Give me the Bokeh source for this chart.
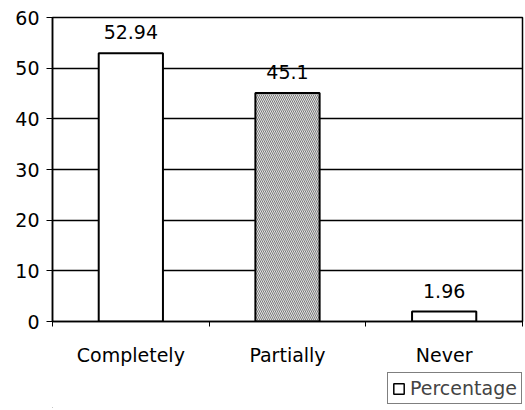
from bokeh.plotting import figure
from bokeh.layouts import column
from bokeh.models import ColumnDataSource, FixedTicker, LabelSet, Legend, LegendItem, Range1d
from bokeh.core.properties import value
from bokeh.embed import file_html
from bokeh.resources import INLINE

categories = ["Completely", "Partially", "Never"]
percentages = [52.94, 45.1, 1.96]
value_labels = ["52.94", "45.1", "1.96"]
y_ticks = [0, 10, 20, 30, 40, 50, 60]
series_name = "Percentage"

FONT = "DejaVu Sans"
FS = "19px"

x = [i + 0.5 for i in range(len(categories))]
fills = ["white", "#e4e4e4", "white"]
hatches = [" ", "left_diagonal_line", " "]

source = ColumnDataSource(dict(x=x, top=percentages, label=value_labels,
                               fill=fills, hatch=hatches))

p = figure(width=524, height=368, x_range=Range1d(0, len(categories)),
           y_range=Range1d(y_ticks[0], y_ticks[-1]),
           output_backend="svg", toolbar_location=None,
           min_border_left=52, min_border_top=17, min_border_right=2, min_border_bottom=40)

r = p.vbar(x="x", top="top", bottom=0, width=0.41, source=source,
           fill_color="fill", line_color="black", line_width=2,
           hatch_pattern="hatch", hatch_color="#7a7a7a", hatch_scale=4, hatch_weight=1)

labels = LabelSet(x="x", y="top", text="label", source=source, text_align="center",
                  text_baseline="bottom", y_offset=14, text_font=value(FONT),
                  text_font_size=value(FS), text_color="black")
p.add_layout(labels)

p.yaxis.ticker = FixedTicker(ticks=y_ticks)
p.xaxis.ticker = FixedTicker(ticks=x, minor_ticks=list(range(len(categories) + 1)))
p.xaxis.major_label_overrides = {xi: c for xi, c in zip(x, categories)}

for ax in (p.xaxis, p.yaxis):
    ax.axis_line_color = "black"
    ax.axis_line_width = 1.5
    ax.major_label_text_font = FONT
    ax.major_label_text_font_size = FS
    ax.major_label_text_color = "black"
    ax.major_tick_line_color = "black"
    ax.minor_tick_line_color = "black"

p.xaxis.major_tick_out = 0
p.xaxis.major_tick_in = 0
p.xaxis.minor_tick_out = 5
p.xaxis.minor_tick_in = 0
p.xaxis.major_label_standoff = 17
p.yaxis.major_tick_out = 6
p.yaxis.major_tick_in = 0
p.yaxis.minor_tick_line_color = None
p.yaxis.major_label_standoff = 7

p.xgrid.grid_line_color = None
p.ygrid.grid_line_color = "black"
p.ygrid.grid_line_width = 1.5
p.outline_line_color = "black"
p.outline_line_width = 1.5

# legend strip below the chart; its proxy bars lie outside its (hidden) ranges
lg = figure(width=524, height=40, output_backend="svg", toolbar_location=None,
            x_range=Range1d(100, 101), y_range=Range1d(100, 101),
            x_axis_location=None, y_axis_location=None,
            min_border_left=52, min_border_right=2, min_border_top=0, min_border_bottom=0)
lg.grid.visible = False
lg.outline_line_color = None
lr = lg.vbar(x="x", top="top", width=0.41, source=source,
             fill_color="white", line_color="black", line_width=1.5)

legend = Legend(items=[LegendItem(label=series_name, renderers=[lr])],
                location=(335, 4), orientation="horizontal",
                label_text_font=FONT, label_text_font_size=FS,
                glyph_width=13, glyph_height=13, padding=4, spacing=0,
                label_standoff=5, border_line_color="black", border_line_width=1.5,
                margin=0, background_fill_alpha=0)
lg.add_layout(legend)

layout = column(p, lg, spacing=0)
open("out.html", "w").write(file_html(layout, INLINE))
